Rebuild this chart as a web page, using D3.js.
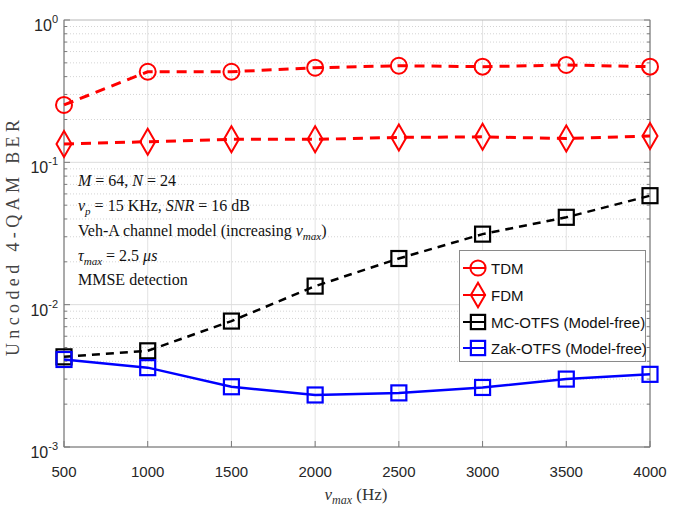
<!DOCTYPE html>
<html>
<head>
<meta charset="utf-8">
<script src="https://cdn.jsdelivr.net/npm/d3@7"></script>
<style>
  html, body { margin: 0; padding: 0; background: #fff; }
  svg { display: block; }
</style>
</head>
<body>
<svg id="chart" width="676" height="508"></svg>
<script>
const nuMax = [500, 1000, 1500, 2000, 2500, 3000, 3500, 4000];
const tdm    = [0.253, 0.433, 0.433, 0.462, 0.477, 0.470, 0.483, 0.470];
const fdm    = [0.1345, 0.1396, 0.145, 0.145, 0.1497, 0.151, 0.147, 0.153];
const mcOtfs = [0.00430, 0.00474, 0.00767, 0.0135, 0.0211, 0.0313, 0.0411, 0.0583];
const zakOtfs= [0.00412, 0.00361, 0.00265, 0.00232, 0.00240, 0.00262, 0.00300, 0.00324];
const xTicks = [500, 1000, 1500, 2000, 2500, 3000, 3500, 4000];
const yTickExps = [0, -1, -2, -3];
const seriesNames = ["TDM", "FDM", "MC-OTFS (Model-free)", "Zak-OTFS (Model-free)"];

const svg = d3.select("#chart");
const L = 64, R = 650, T = 20, B = 447;
const x = d3.scaleLinear().domain([500, 4000]).range([L, R]);
const y = d3.scaleLog().domain([1e-3, 1]).range([B, T]);

svg.append("rect").attr("width", 676).attr("height", 508).attr("fill", "#fff");

// grid
const g = svg.append("g");
xTicks.slice(1, -1).forEach(v => {
  g.append("line").attr("x1", x(v)).attr("x2", x(v)).attr("y1", T).attr("y2", B)
    .attr("stroke", "#e3e3e3").attr("stroke-width", 1);
});
const minorVals = [];
for (let e = -3; e < 0; e++) for (let k = 2; k <= 9; k++) minorVals.push(k * Math.pow(10, e));
minorVals.forEach(v => {
  g.append("line").attr("x1", L).attr("x2", R).attr("y1", y(v)).attr("y2", y(v))
    .attr("stroke", "#d4d4d4").attr("stroke-width", 1).attr("stroke-dasharray", "1,2");
});
[-2, -1].forEach(e => {
  g.append("line").attr("x1", L).attr("x2", R).attr("y1", y(Math.pow(10, e))).attr("y2", y(Math.pow(10, e)))
    .attr("stroke", "#dcdcdc").attr("stroke-width", 1);
});

// axes box
const axCol = "#7a7a7a";
svg.append("rect").attr("x", L).attr("y", T).attr("width", R - L).attr("height", B - T)
  .attr("fill", "none").attr("stroke", "#b8b8b8").attr("stroke-width", 1);
svg.append("line").attr("x1", L).attr("x2", L).attr("y1", T).attr("y2", B).attr("stroke", axCol);
svg.append("line").attr("x1", R).attr("x2", R).attr("y1", T).attr("y2", B).attr("stroke", axCol);
svg.append("line").attr("x1", L).attr("x2", R).attr("y1", B).attr("y2", B).attr("stroke", axCol);

// y ticks
yTickExps.forEach(e => {
  const yy = y(Math.pow(10, e));
  svg.append("line").attr("x1", L).attr("x2", L + 6).attr("y1", yy).attr("y2", yy).attr("stroke", axCol);
  svg.append("line").attr("x1", R).attr("x2", R - 6).attr("y1", yy).attr("y2", yy).attr("stroke", axCol);
});
minorVals.forEach(v => {
  const yy = y(v);
  svg.append("line").attr("x1", L).attr("x2", L + 3).attr("y1", yy).attr("y2", yy).attr("stroke", axCol);
  svg.append("line").attr("x1", R).attr("x2", R - 3).attr("y1", yy).attr("y2", yy).attr("stroke", axCol);
});
// x ticks
xTicks.forEach(v => {
  svg.append("line").attr("x1", x(v)).attr("x2", x(v)).attr("y1", B).attr("y2", B - 6).attr("stroke", axCol);
});

// tick labels
const tickFont = "'Liberation Sans', Arial, sans-serif";
xTicks.forEach(v => {
  svg.append("text").attr("x", x(v)).attr("y", 477).attr("text-anchor", "middle")
    .attr("font-family", tickFont).attr("font-size", 15).attr("fill", "#262626").text(v);
});
yTickExps.forEach(e => {
  const yy = y(Math.pow(10, e));
  const t = svg.append("text").attr("x", 58).attr("y", yy + 11).attr("text-anchor", "end")
    .attr("font-family", tickFont).attr("font-size", 16).attr("fill", "#262626");
  t.append("tspan").text("10");
  t.append("tspan").attr("dy", -8).attr("font-size", 11).text(String(e));
});

// axis labels
svg.append("text").attr("transform", "translate(19,238) rotate(-90)").attr("text-anchor", "middle")
  .attr("font-family", "'Liberation Serif', 'DejaVu Serif', serif").attr("font-size", 18)
  .attr("fill", "#444").attr("textLength", 236).attr("lengthAdjust", "spacing")
  .text("Uncoded 4-QAM BER");
const xl = svg.append("text").attr("x", 356).attr("y", 500).attr("text-anchor", "middle")
  .attr("font-family", "'Liberation Serif', 'DejaVu Serif', serif").attr("font-size", 17).attr("fill", "#333");
xl.append("tspan").attr("font-style", "italic").text("ν");
xl.append("tspan").attr("font-style", "italic").attr("font-size", 12).attr("dy", 4).text("max");
xl.append("tspan").attr("dy", -4).text(" (Hz)");

// annotation
const serif = "'Liberation Serif', 'DejaVu Serif', serif";
function annot(yb, parts) {
  const t = svg.append("text").attr("x", 78).attr("y", yb).attr("font-family", serif)
    .attr("font-size", 16).attr("fill", "#111");
  parts.forEach(p => {
    const s = t.append("tspan").text(p.t);
    if (p.i) s.attr("font-style", "italic");
    if (p.sub) s.attr("font-size", 11).attr("dy", 4);
    if (p.up) s.attr("dy", -4);
  });
}
annot(186, [{t: "M", i: 1}, {t: " = 64, "}, {t: "N", i: 1}, {t: " = 24"}]);
annot(211, [{t: "ν", i: 1}, {t: "p", i: 1, sub: 1}, {t: " = 15 KHz, ", up: 1}, {t: "SNR", i: 1}, {t: " = 16 dB"}]);
annot(236, [{t: "Veh-A channel model (increasing "}, {t: "ν", i: 1}, {t: "max", i: 1, sub: 1}, {t: ")", up: 1}]);
annot(261, [{t: "τ", i: 1}, {t: "max", i: 1, sub: 1}, {t: " = 2.5 ", up: 1}, {t: "μs", i: 1}]);
annot(285, [{t: "MMSE detection"}]);

// series
const series = [
  {name: seriesNames[0], data: tdm, color: "#ff0000", dash: "10,7", w: 3, marker: "circle"},
  {name: seriesNames[1], data: fdm, color: "#ff0000", dash: "10,7", w: 3, marker: "diamond"},
  {name: seriesNames[2], data: mcOtfs, color: "#000000", dash: "8,6", w: 2.5, marker: "square"},
  {name: seriesNames[3], data: zakOtfs, color: "#0000ff", dash: null, w: 2.5, marker: "square"}
];
function drawMarker(sel, type, cx, cy, color, scale) {
  scale = scale || 1;
  if (type === "circle") {
    sel.append("circle").attr("cx", cx).attr("cy", cy).attr("r", 8 * scale)
      .attr("fill", "none").attr("stroke", color).attr("stroke-width", 2);
  } else if (type === "diamond") {
    const hw = 7.5 * scale, hh = 13 * scale;
    sel.append("path").attr("d", `M${cx},${cy - hh}L${cx + hw},${cy}L${cx},${cy + hh}L${cx - hw},${cy}Z`)
      .attr("fill", "none").attr("stroke", color).attr("stroke-width", 2);
  } else {
    const h = 7.5 * scale;
    sel.append("rect").attr("x", cx - h).attr("y", cy - h).attr("width", 2 * h).attr("height", 2 * h)
      .attr("fill", "none").attr("stroke", color).attr("stroke-width", 2.2);
  }
}
const line = d3.line().x((d, i) => x(nuMax[i])).y(d => y(d));
series.forEach(s => {
  const p = svg.append("path").datum(s.data).attr("d", line).attr("fill", "none")
    .attr("stroke", s.color).attr("stroke-width", s.w);
  if (s.dash) p.attr("stroke-dasharray", s.dash);
  const mg = svg.append("g");
  s.data.forEach((d, i) => drawMarker(mg, s.marker, x(nuMax[i]), y(d), s.color));
});

// legend
const lg = svg.append("g");
lg.append("rect").attr("x", 459.5).attr("y", 250.5).attr("width", 186).attr("height", 111)
  .attr("fill", "#fff").attr("stroke", "#8a8a8a").attr("stroke-width", 1);
const ly = [268, 295, 322, 348];
series.forEach((s, i) => {
  lg.append("line").attr("x1", 463).attr("x2", 486).attr("y1", ly[i]).attr("y2", ly[i])
    .attr("stroke", s.color).attr("stroke-width", 2);
  drawMarker(lg, s.marker, 478, ly[i], s.color, 0.95);
  lg.append("text").attr("x", 491).attr("y", ly[i] + 5.5).attr("font-family", tickFont)
    .attr("font-size", 15).attr("fill", "#111").text(s.name);
});
</script>
</body>
</html>
